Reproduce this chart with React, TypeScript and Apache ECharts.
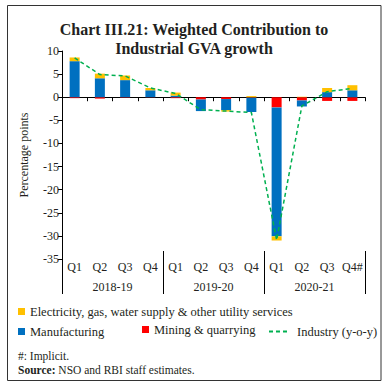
import React, { useEffect, useRef } from "react";
import * as echarts from "echarts";

const quarters = ["Q1", "Q2", "Q3", "Q4", "Q1", "Q2", "Q3", "Q4", "Q1", "Q2", "Q3", "Q4#"];
const years = ["2018-19", "2019-20", "2020-21"];
const mining = [-0.2, -0.3, -0.1, -0.05, -0.2, -0.5, -0.4, -0.1, -2.2, -0.7, -0.8, -0.8];
const manufacturing = [7.8, 4.1, 3.7, 1.5, 0.35, -2.5, -2.4, -3.1, -27.9, -1.3, 1.1, 1.5];
const electricity = [0.8, 1.0, 1.0, 0.5, 0.65, 0, -0.3, 0.25, -0.9, 0.1, 0.9, 1.1];
const industry = [8.5, 4.9, 4.6, 2.0, 0.8, -2.7, -3.0, -3.3, -30.9, -1.9, 1.2, 1.9];
const yTicks = { min: -35, max: 10, interval: 5 };

const FONT = "Liberation Serif";
const TXT = "#231f20";

export default function App() {
  const ref = useRef<HTMLDivElement>(null);
  useEffect(() => {
    document.body.style.margin = "0";
    const chart = echarts.init(ref.current!, null, { renderer: "svg" });
    const legendBase = {
      orient: "horizontal",
      itemWidth: 7,
      itemHeight: 7,
      itemGap: 0,
      textStyle: { fontFamily: FONT, fontSize: 12.5, color: TXT },
      padding: 0,
    };
    chart.setOption({
      animation: false,
      textStyle: { fontFamily: FONT },
      title: {
        text: "Chart III.21: Weighted Contribution to\nIndustrial GVA growth",
        left: "center",
        top: 15,
        textStyle: { fontFamily: FONT, fontSize: 16, fontWeight: "bold", color: TXT, lineHeight: 19 },
      },
      grid: { left: 62, right: 23, top: 51, bottom: 128, containLabel: false },
      legend: [
        { ...legendBase, left: 18, top: 305, data: [{ name: "Electricity, gas, water supply & other utility services", icon: "rect" }] },
        { ...legendBase, left: 18, top: 325, data: [{ name: "Manufacturing", icon: "rect" }] },
        { ...legendBase, left: 142, top: 323, data: [{ name: "Mining & quarrying", icon: "rect" }] },
        {
          ...legendBase,
          left: 268,
          top: 325,
          itemWidth: 19,
          itemHeight: 7,
          textStyle: { ...legendBase.textStyle, padding: [0, 0, 0, 4] },
          data: [{ name: "Industry (y-o-y)", itemStyle: { opacity: 0 } }],
        },
      ],
      xAxis: [
        {
          type: "category",
          data: quarters,
          position: "bottom",
          axisLine: { show: false, onZero: false },
          axisTick: { show: false },
          axisLabel: { fontFamily: FONT, fontSize: 12, color: TXT, margin: 2, interval: 0 },
        },
        {
          type: "category",
          data: quarters,
          position: "bottom",
          axisLine: { show: true, onZero: true, lineStyle: { color: "#000", width: 1 } },
          axisTick: { show: true, length: 4, alignWithLabel: false, interval: 0, lineStyle: { color: "#000" } },
          axisLabel: { show: false },
        },
        {
          type: "category",
          data: years,
          position: "bottom",
          offset: 35,
          axisLine: { show: false, onZero: false },
          axisTick: { show: true, inside: true, length: 43, interval: 0, lineStyle: { color: "#000" } },
          axisLabel: { inside: true, fontFamily: FONT, fontSize: 12, color: TXT, margin: 1, interval: 0 },
        },
      ],
      yAxis: {
        type: "value",
        min: yTicks.min,
        max: yTicks.max,
        interval: yTicks.interval,
        name: "Percentage points",
        nameLocation: "middle",
        nameGap: 32,
        nameTextStyle: { fontFamily: FONT, fontSize: 12, color: TXT },
        axisLine: { show: true, lineStyle: { color: "#000" } },
        axisTick: { show: true, length: 4, lineStyle: { color: "#000" } },
        axisLabel: { fontFamily: FONT, fontSize: 12, color: TXT, margin: 3 },
        splitLine: { show: false },
      },
      series: [
        { name: "Mining & quarrying", type: "bar", stack: "c", barWidth: 10, data: mining, itemStyle: { color: "#ff0000" } },
        { name: "Manufacturing", type: "bar", stack: "c", barWidth: 10, data: manufacturing, itemStyle: { color: "#0070c0" } },
        { name: "Electricity, gas, water supply & other utility services", type: "bar", stack: "c", barWidth: 10, data: electricity, itemStyle: { color: "#ffc000" } },
        {
          name: "Industry (y-o-y)",
          type: "line",
          data: industry,
          symbol: "none",
          lineStyle: { color: "#00b050", width: 1.5, type: [4, 3] },
          itemStyle: { color: "#00b050" },
          z: 5,
        },
      ],
      graphic: [
        { type: "rect", shape: { x: 7.5, y: 5.5, width: 373.5, height: 375 }, style: { fill: "none", stroke: "#333", lineWidth: 1 }, silent: true },
        { type: "text", x: 18, y: 350, style: { text: "#: Implicit.", fontFamily: FONT, fontSize: 11.5, fill: TXT } },
        {
          type: "text",
          x: 18,
          y: 364,
          style: {
            text: "{b|Source:} NSO and RBI staff estimates.",
            fontFamily: FONT,
            fontSize: 11.5,
            fill: TXT,
            rich: { b: { fontWeight: "bold", fontFamily: FONT, fontSize: 11.5, fill: TXT } },
          },
        },
      ],
    });
    return () => chart.dispose();
  }, []);
  return <div ref={ref} style={{ width: 388, height: 387 }} />;
}
